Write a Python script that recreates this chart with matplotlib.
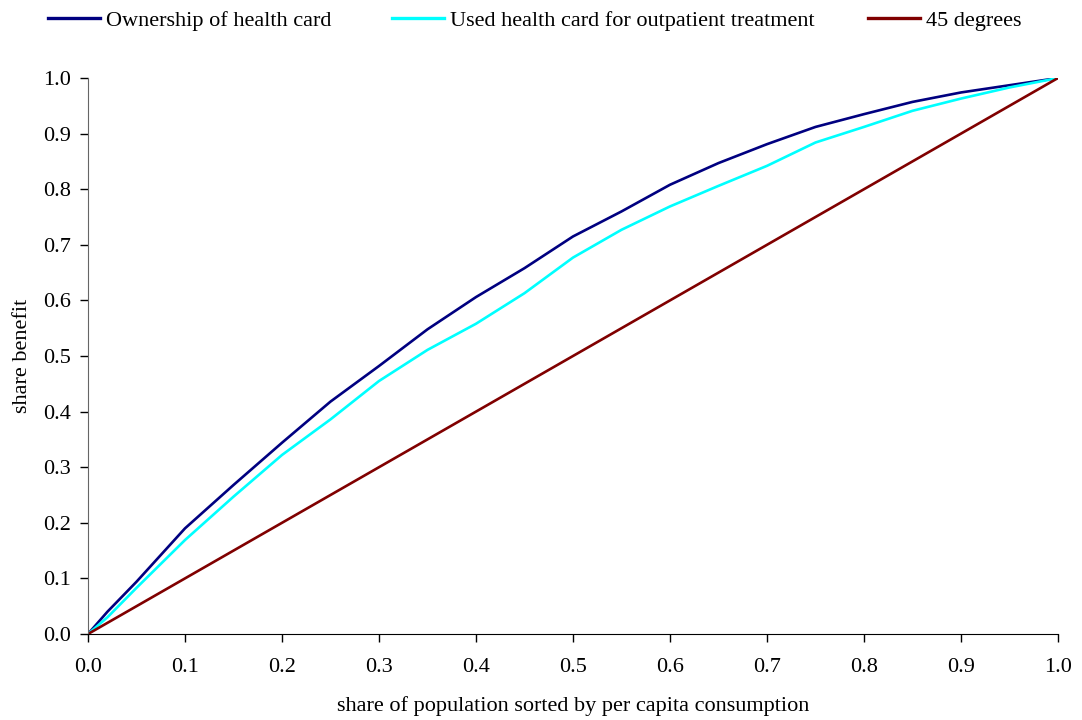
import matplotlib
matplotlib.use("Agg")
import matplotlib.pyplot as plt

# Data
x_pts = [0.0, 0.02, 0.05, 0.10, 0.15, 0.20, 0.25, 0.30, 0.35, 0.40, 0.45, 0.50,
         0.55, 0.60, 0.65, 0.70, 0.75, 0.80, 0.85, 0.90, 0.95, 1.0]
ownership = [0.0, 0.040, 0.094, 0.190, 0.268, 0.344, 0.418, 0.482, 0.548, 0.606, 0.658, 0.715,
             0.760, 0.808, 0.847, 0.881, 0.912, 0.935, 0.957, 0.974, 0.987, 1.0]
used_outpatient = [0.0, 0.030, 0.083, 0.169, 0.247, 0.322, 0.386, 0.455, 0.511, 0.558, 0.613, 0.677,
                   0.727, 0.769, 0.806, 0.842, 0.884, 0.912, 0.941, 0.963, 0.983, 1.0]
diag_x = [0.0, 1.0]
diag_y = [0.0, 1.0]

series_labels = ["Ownership of health card", "Used health card for outpatient treatment", "45 degrees"]
tick_vals = [0.0, 0.1, 0.2, 0.3, 0.4, 0.5, 0.6, 0.7, 0.8, 0.9, 1.0]
tick_labels = ["0.0", "0.1", "0.2", "0.3", "0.4", "0.5", "0.6", "0.7", "0.8", "0.9", "1.0"]

plt.rcParams['font.family'] = ['Liberation Serif', 'DejaVu Serif']
FS = 16
W, H = 1082, 720

fig = plt.figure(figsize=(W / 100, H / 100), dpi=100)
ax = fig.add_axes([88/W, 86/H, 970/W, 556/H])

l1, = ax.plot(x_pts, ownership, color='#000080', lw=1.9, label=series_labels[0])
l2, = ax.plot(x_pts, used_outpatient, color='#00FFFF', lw=1.9, label=series_labels[1])
l3, = ax.plot(diag_x, diag_y, color='#800000', lw=1.9, label=series_labels[2])

ax.set_xlim(0, 1)
ax.set_ylim(0, 1)
ax.set_xticks(tick_vals)
ax.set_xticklabels(tick_labels, fontsize=FS)
ax.set_yticks(tick_vals)
ax.set_yticklabels(tick_labels, fontsize=FS)
ax.tick_params(axis='both', direction='out', length=6, width=1, colors='black')
ax.tick_params(axis='x', pad=11)
ax.tick_params(axis='y', pad=6)
for s in ['top', 'right']:
    ax.spines[s].set_visible(False)
ax.spines['left'].set_color('#666666')
ax.spines['bottom'].set_color('black')
ax.set_xlabel("share of population sorted by per capita consumption", fontsize=FS, labelpad=14)
ax.set_ylabel("share benefit", fontsize=FS, labelpad=8)

# Legend entries placed individually, as in the reference
legend_x_px = [48, 392, 868]
for handle, xp in zip([l1, l2, l3], legend_x_px):
    lg = fig.legend(handles=[handle], loc='upper left', bbox_to_anchor=(xp / W, 1 - 10 / H),
                    frameon=False, fontsize=FS, handlelength=2.35, handletextpad=0.25,
                    borderpad=0, borderaxespad=0)
    for line in lg.get_lines():
        line.set_linewidth(2.4)

fig.savefig("out.png", dpi=100, facecolor='white')
